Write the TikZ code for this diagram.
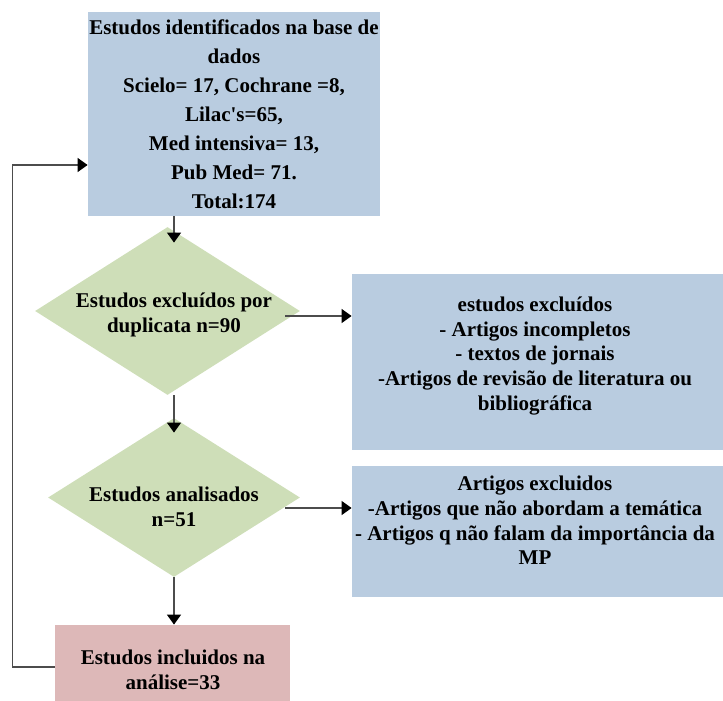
\documentclass[tikz,border=0pt]{standalone}
\usepackage{fontspec}
\setmainfont{Liberation Serif}[Ligatures=TeXOff]
\usepackage{xcolor}
\usepackage{tikz}
\usetikzlibrary{shapes}
\usetikzlibrary{arrows.meta}
\definecolor{boxblue}{RGB}{185,204,224}
\definecolor{dgreen}{RGB}{206,222,184}
\definecolor{boxpink}{RGB}{221,184,184}
\tikzset{
	data node/.style={rectangle,fill=boxblue,inner sep=0pt},
	decision/.style={diamond,fill=dgreen,inner sep=0pt},
	result node/.style={rectangle,fill=boxpink,inner sep=0pt},
	txt/.style={align=center,font=\fontsize{10.5}{12.3}\selectfont\bfseries},
	conn/.style={draw=black!70,line width=0.6pt}
}

\begin{document}
\begin{tikzpicture}[->,>={Triangle[length=5pt,width=7pt,color=black]},x=0.5pt,y=-0.5pt]
	\useasboundingbox (0,0) rectangle (723,701);
	% shapes
	\node [data node,txt,font=\fontsize{10.5}{14.5}\selectfont\bfseries,minimum width=146pt,minimum height=102pt] (1) at (234,114)
		{Estudos identificados na base de\\dados\\Scielo= 17, Cochrane =8,\\Lilac's=65,\\Med intensiva= 13,\\Pub Med= 71.\\Total:174};
	\node [decision,minimum width=132.5pt,minimum height=84pt] (2) at (167.5,311) {};
	\node [txt] (3) at (174,315) {Estudos excluídos por\\duplicata n=90};
	\node [data node,minimum width=185.5pt,minimum height=88pt] (4) at (537.5,362) {};
	\node [txt] (5) at (535,356) {estudos excluídos\\- Artigos incompletos\\- textos de jornais\\-Artigos de revisão de literatura ou\\bibliográfica};
	\node [decision,minimum width=126pt,minimum height=79.5pt] (6) at (174,497.5) {};
	\node [txt] (7) at (174,507) {Estudos analisados\\n=51};
	\node [data node,minimum width=185.5pt,minimum height=65.5pt] (8) at (537.5,531.5) {};
	\node [txt] (9) at (535,520.5) {Artigos excluidos\\-Artigos que não abordam a temática\\- Artigos q não falam da importância da\\MP};
	\node [result node,minimum width=117.5pt,minimum height=38pt] (10) at (172.5,663) {};
	\node [txt] (11) at (173,670) {Estudos incluidos na\\análise=33};
	% connectors
	\draw [conn] (1.south -| 3) -- ([yshift=-8pt]2.north -| 3);
	\draw [conn] (2.south -| 3) -- ([yshift=-7.5pt]6.north -| 3);
	\draw [conn] (6.south -| 3) -- (10.north -| 3);
	\draw [conn] ([shift={(-15,5)}]2.east) coordinate (12) -- (12 -| 4.west);
	\draw [conn] ([shift={(-15,10.5)}]6.east) coordinate (13) -- (13 -| 8.west);
	\draw [conn] ([yshift=-2pt]10.west) -- ++(-42,0) |- ([yshift=-25.5pt]1.west);
\end{tikzpicture}
\end{document}
